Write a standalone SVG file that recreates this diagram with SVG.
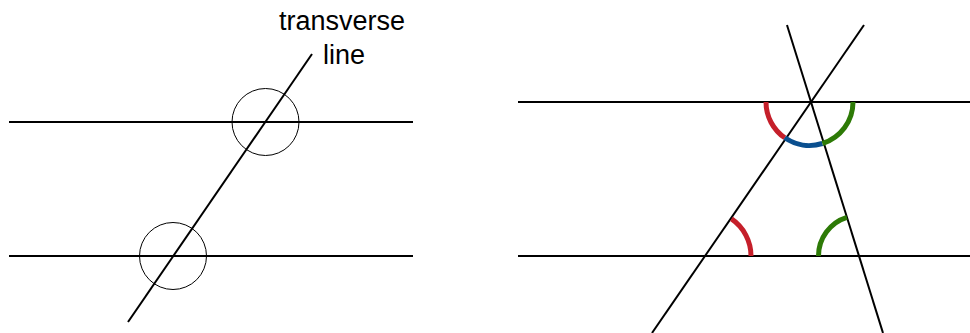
<svg xmlns="http://www.w3.org/2000/svg" width="970" height="333" viewBox="0 0 970 333">
<style>
.ln{stroke:#000;stroke-width:2;fill:none}
.cir{stroke:#000;stroke-width:1;fill:none}
.arc{fill:none;stroke-width:5}
.red{stroke:#c51f2a}
.blue{stroke:#0a4f8f}
.green{stroke:#2d7a06}
.lbl{font-family:"Liberation Sans",Arial,sans-serif;font-size:27px;fill:#000;text-anchor:middle}
</style>
<rect width="970" height="333" fill="#fff"/>
<g id="left">
  <line class="ln" x1="9" y1="122" x2="413" y2="122"/>
  <line class="ln" x1="9" y1="256" x2="413" y2="256"/>
  <line class="ln" x1="128" y1="322" x2="312" y2="54"/>
  <circle class="cir" cx="265.5" cy="122" r="33.5"/>
  <circle class="cir" cx="173" cy="256" r="33.5"/>
  <text class="lbl" x="342" y="30">transverse</text>
  <text class="lbl" x="344" y="64">line</text>
</g>
<g id="right">
  <line class="ln" x1="518" y1="102" x2="970" y2="102"/>
  <line class="ln" x1="518" y1="256" x2="970" y2="256"/>
  <line class="ln" x1="864" y1="25" x2="652" y2="333"/>
  <line class="ln" x1="787" y1="25" x2="883" y2="333"/>
  <path class="arc red" d="M766 102 A43.5 43.5 0 0 0 784.8 137.8"/>
  <path class="arc blue" d="M784.8 137.8 A43.5 43.5 0 0 0 822.4 143.5"/>
  <path class="arc green" d="M822.4 143.5 A43.5 43.5 0 0 0 853 102"/>
  <path class="arc red" d="M731.5 218.9 A45 45 0 0 1 751 256"/>
  <path class="arc green" d="M818.5 256 A40.5 40.5 0 0 1 846.9 217.3"/>
</g>
</svg>
